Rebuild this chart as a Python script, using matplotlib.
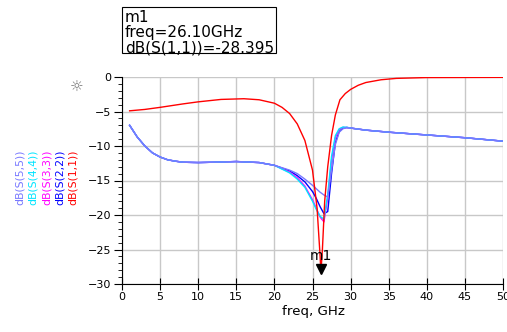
import matplotlib

matplotlib.use("Agg")
import matplotlib.pyplot as plt
from matplotlib.patches import Rectangle
from matplotlib.ticker import MultipleLocator

# S(1,1) trace
freq_s11 = [1, 3, 5, 8, 10, 13, 16, 18, 20, 21, 22, 23, 24, 25, 25.6, 26.0, 26.1,
            26.3, 26.6, 27, 27.5, 28, 28.6, 29.3, 30, 31, 32, 34, 36, 40, 50]
db_s11 = [-4.9, -4.7, -4.4, -3.9, -3.6, -3.25, -3.15, -3.3, -3.8, -4.4, -5.3, -6.8,
          -9.2, -13.5, -19.0, -26.0, -28.4, -25.0, -18.0, -13.0, -8.5, -5.5, -3.3,
          -2.4, -1.8, -1.2, -0.8, -0.4, -0.2, -0.08, -0.05]

# S(2,2)..S(5,5) share one frequency grid
freq = [1, 2, 3, 4, 5, 6, 7, 8, 10, 12, 15, 18, 20, 22, 23, 24, 25, 25.5, 26,
        26.5, 27, 27.5, 28, 28.5, 29, 29.5, 30, 32, 35, 40, 45, 50]
common = [-7.0, -8.7, -10.0, -11.0, -11.6, -12.0, -12.2, -12.35, -12.4, -12.35,
          -12.25, -12.4, -12.8]
tail = [-7.4, -7.7, -8.0, -8.4, -8.8, -9.3]
db_s22 = common + [-13.6, -14.3, -15.2, -16.6, -17.6, -18.8, -19.8, -19.5, -14.0,
                   -9.5, -7.9, -7.4, -7.3] + tail
db_s33 = common + [-13.8, -14.6, -15.8, -17.8, -19.0, -20.3, -21.0, -17.5, -12.0,
                   -8.8, -7.6, -7.3, -7.35] + tail
db_s44 = common + [-13.9, -14.8, -16.0, -18.0, -19.2, -20.2, -20.6, -17.0, -11.5,
                   -8.5, -7.5, -7.25, -7.3] + tail
db_s55 = common + [-13.5, -14.0, -14.8, -15.7, -16.2, -16.7, -17.1, -17.4, -13.5,
                   -9.8, -8.0, -7.5, -7.35] + tail

labels = ["dB(S(5,5))", "dB(S(4,4))", "dB(S(3,3))", "dB(S(2,2))", "dB(S(1,1))"]
colors = ["#7878ff", "#00e5ff", "#ff00ff", "#0000ff", "#ff0000"]

m1_freq = 26.10
m1_val = -28.395
readout = ["m1", "freq=26.10GHz", "dB(S(1,1))=-28.395"]

W, H = 507, 332


def fx(px):
    return px / W


def fy(py):
    return 1 - py / H


fig = plt.figure(figsize=(W / 100, H / 100), dpi=100)
ax = fig.add_axes([fx(122), fy(284), fx(503) - fx(122), fy(77) - fy(284)])

blue_series = [db_s22, db_s33, db_s44, db_s55]
blue_colors = [colors[3], colors[2], colors[1], colors[0]]
for series, color in zip(blue_series, blue_colors):
    ax.plot(freq, series, color=color, linewidth=1.0)
ax.plot(freq_s11, db_s11, color=colors[4], linewidth=1.0)

# marker m1
ax.plot([m1_freq], [m1_val + 0.6], marker="v", color="black", markersize=7,
        linestyle="none")
ax.text(m1_freq, -25.9, "m1", ha="center", va="center", fontsize=10)

ax.set_xlim(0, 50)
ax.set_ylim(-30, 0)
ax.xaxis.set_major_locator(MultipleLocator(5))
ax.yaxis.set_major_locator(MultipleLocator(5))
ax.yaxis.set_minor_locator(MultipleLocator(1))
ax.grid(True, color="#c8c8c8", linewidth=1.0)
ax.set_axisbelow(True)
for side in ("top", "right"):
    ax.spines[side].set_visible(False)
ax.tick_params(axis="x", which="major", direction="inout", length=8, labelsize=8, pad=2)
ax.tick_params(axis="y", which="major", direction="out", length=6, labelsize=8, pad=2)
ax.tick_params(axis="y", which="minor", direction="out", length=3)
fig.text(fx(313), fy(312), "freq, GHz", fontsize=9.6, ha="center", va="center")

# rotated legend on the left
for i, (label, color) in enumerate(zip(labels, colors)):
    fig.text(fx(20 + 13.2 * i), fy(205), label, rotation=90, color=color,
             fontsize=7.8, ha="center", va="bottom")

# marker readout box
fig.patches.append(Rectangle((fx(122), fy(53)), fx(276) - fx(122), fy(7) - fy(53),
                             transform=fig.transFigure, facecolor="white",
                             edgecolor="black", linewidth=0.8))
for line, py in zip(readout, [17, 33, 48]):
    fig.text(fx(125), fy(py), line, fontsize=11, ha="left", va="center")

fig.text(fx(77), fy(87), "\u263c", fontsize=11, color="#777777",
         ha="center", va="center")

fig.savefig("out.png", dpi=100)
